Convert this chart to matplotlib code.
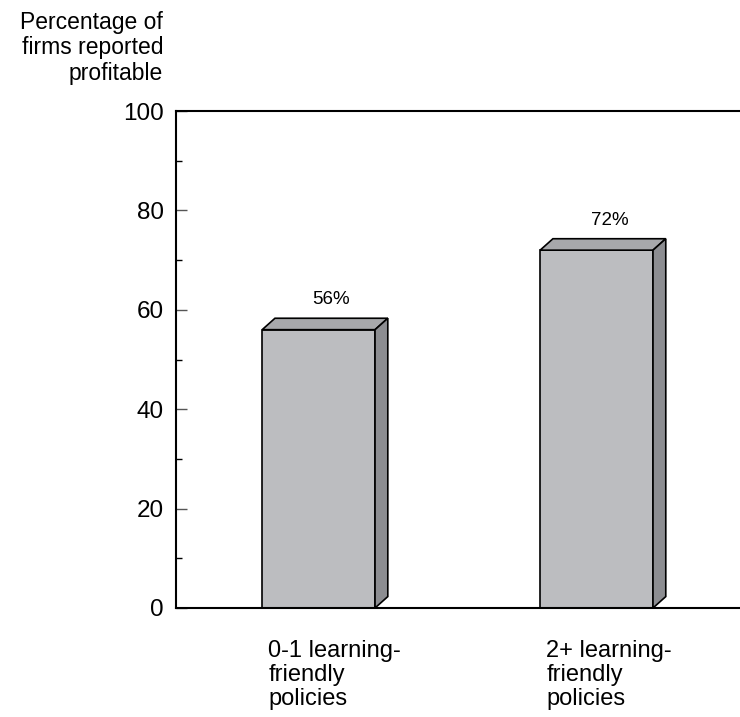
import matplotlib.pyplot as plt
from matplotlib.patches import Polygon
from matplotlib.ticker import MultipleLocator

plt.rcParams["font.family"] = ["Liberation Sans", "DejaVu Sans"]

categories = ["0-1 learning-\nfriendly\npolicies", "2+ learning-\nfriendly\npolicies"]
values = [56, 72]
value_labels = ["56%", "72%"]
y_title = "Percentage of\nfirms reported\nprofitable"

front = "#bcbdc0"
top_c = "#a7a8ab"
side = "#8c8d91"

fig = plt.figure(figsize=(7.4, 7.17), dpi=100)
ax = fig.add_axes([176 / 740, 109 / 717, 564 / 740, 497 / 717])

width = 0.406
dx = 0.046
dy = 2.3

for i, v in enumerate(values):
    x0 = i - width / 2
    x1 = i + width / 2
    ax.bar(i, v, width=width, color=front, edgecolor="black", linewidth=1.2, zorder=2)
    ax.add_patch(Polygon([(x0, v), (x0 + dx, v + dy), (x1 + dx, v + dy), (x1, v)],
                         closed=True, facecolor=top_c, edgecolor="black", linewidth=1.2, zorder=2))
    ax.add_patch(Polygon([(x1, 0), (x1 + dx, dy), (x1 + dx, v + dy), (x1, v)],
                         closed=True, facecolor=side, edgecolor="black", linewidth=1.2, zorder=2))
    ax.text(i + dx, v + dy + 2.0, value_labels[i], ha="center", va="bottom", fontsize=13.5)
    ax.text(x0 + 0.022, -6.4, categories[i], ha="left", va="top", fontsize=17,
            linespacing=1.11)

ax.set_xlim(-0.513, 1.516)
ax.set_ylim(0, 100)
ax.spines["right"].set_visible(False)
for s in ["left", "top", "bottom"]:
    ax.spines[s].set_linewidth(1.5)

ax.yaxis.set_major_locator(MultipleLocator(20))
ax.yaxis.set_minor_locator(MultipleLocator(10))
ax.set_xticks(range(len(values)))
ax.set_xticklabels([])
ax.tick_params(axis="y", which="major", direction="in", length=8, width=1, color="#555555",
               labelsize=17.5, pad=9)
ax.tick_params(axis="y", which="minor", direction="in", length=4, width=1, color="black")
ax.tick_params(axis="x", direction="in", length=7, width=1, color="#666666")
ax.tick_params(top=False, right=False)

fig.text(163 / 740, 1 - 11 / 717, y_title, ha="right", va="top", fontsize=16.5,
         multialignment="right", linespacing=1.13)

fig.savefig("out.png", dpi=100)
